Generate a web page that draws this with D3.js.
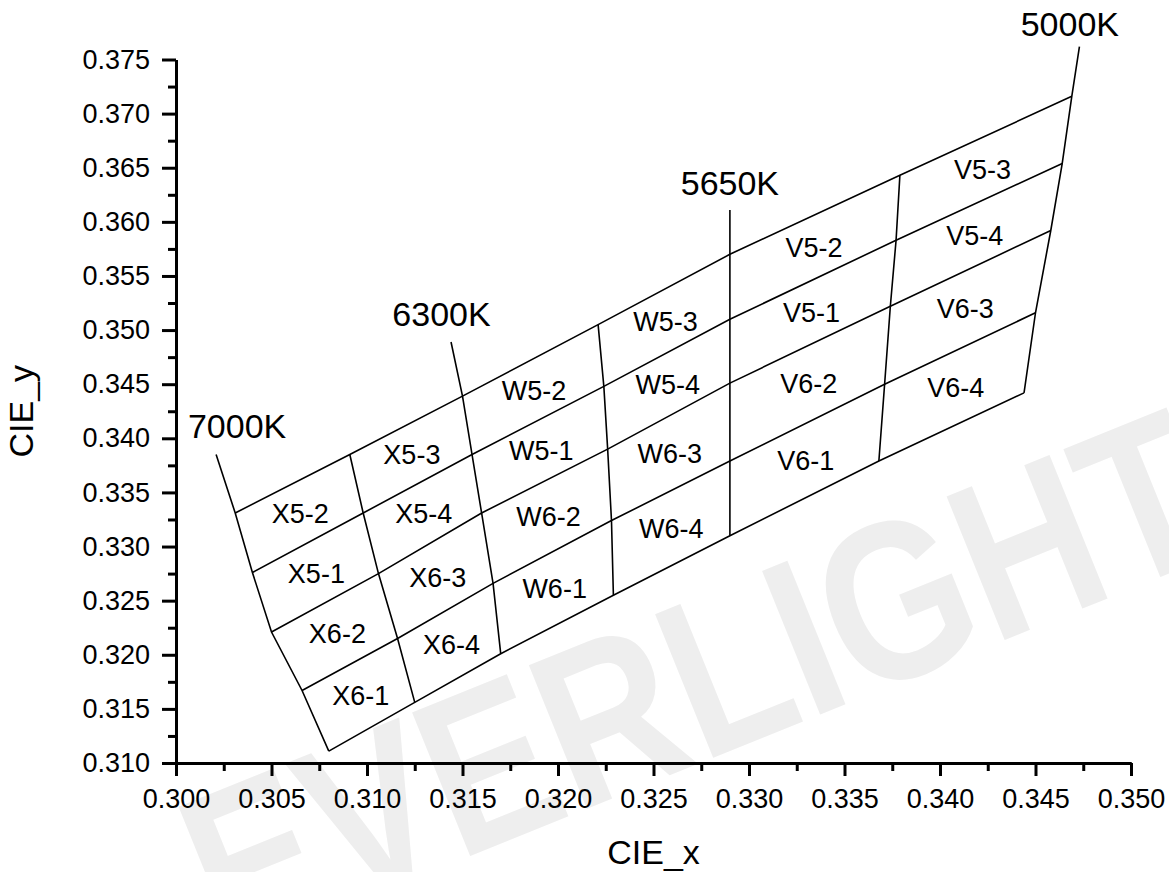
<!DOCTYPE html>
<html>
<head>
<meta charset="utf-8">
<script src="https://cdn.jsdelivr.net/npm/d3@7"></script>
<style>
  body { margin: 0; background: #fff; }
  text { font-family: "Liberation Sans", Arial, sans-serif; }
</style>
</head>
<body>
<div id="chart"></div>
<script>
const WIDTH = 1169;
const HEIGHT = 872;
const LEFT = 176, RIGHT = 1131, TOP = 59.5, BOTTOM = 763;

// bin corners along each isotherm line (7000K ... 5000K), top row to bottom row
const cornerX = [
  [0.3031, 0.3040, 0.3050, 0.3066, 0.3080],
  [0.3091, 0.3098, 0.3106, 0.3116, 0.3125],
  [0.3150, 0.3155, 0.3160, 0.3166, 0.3170],
  [0.3221, 0.3224, 0.3226, 0.3228, 0.3229],
  [0.3290, 0.3290, 0.3290, 0.3290, 0.3290],
  [0.3379, 0.3377, 0.3374, 0.3371, 0.3368],
  [0.3469, 0.3464, 0.3458, 0.3450, 0.3444]
];
const cornerY = [
  [0.3331, 0.3276, 0.3221, 0.3167, 0.3111],
  [0.3385, 0.3331, 0.3275, 0.3215, 0.3156],
  [0.3439, 0.3385, 0.3331, 0.3266, 0.3201],
  [0.3505, 0.3448, 0.3390, 0.3324, 0.3255],
  [0.3570, 0.3510, 0.3451, 0.3379, 0.3310],
  [0.3643, 0.3583, 0.3522, 0.3450, 0.3379],
  [0.3716, 0.3654, 0.3592, 0.3516, 0.3442]
];

// labelled CCT lines and where they stick out above the grid
const cctLines = [0, 2, 4, 6];
const cctNames = ["7000K", "6300K", "5650K", "5000K"];
const cctTopX = [0.3021, 0.3144, 0.3290, 0.3473];
const cctTopY = [0.3385, 0.3489, 0.3611, 0.3762];
const cctLabelX = [0.3032, 0.3139, 0.3290, 0.3468];
const cctLabelY = [0.3400, 0.3504, 0.3625, 0.3772];

// bin codes, one column per strip between two lines, top to bottom
const binNames = [
  ["X5-2", "X5-1", "X6-2", "X6-1"],
  ["X5-3", "X5-4", "X6-3", "X6-4"],
  ["W5-2", "W5-1", "W6-2", "W6-1"],
  ["W5-3", "W5-4", "W6-3", "W6-4"],
  ["V5-2", "V5-1", "V6-2", "V6-1"],
  ["V5-3", "V5-4", "V6-3", "V6-4"]
];

const xTicks = [0.300, 0.305, 0.310, 0.315, 0.320, 0.325, 0.330, 0.335, 0.340, 0.345, 0.350];
const yTicks = [0.310, 0.315, 0.320, 0.325, 0.330, 0.335, 0.340, 0.345, 0.350, 0.355, 0.360, 0.365, 0.370, 0.375];

const xScale = d3.scaleLinear().domain([0.300, 0.350]).range([LEFT, RIGHT]);
const yScale = d3.scaleLinear().domain([0.310, 0.375]).range([BOTTOM, TOP]);

const svg = d3.select("#chart")
  .append("svg")
  .attr("width", WIDTH)
  .attr("height", HEIGHT)
  .style("background", "#fff");

// watermark
svg.append("text")
   .attr("transform", "translate(225, 955) rotate(-22)")
   .attr("font-size", 225)
   .attr("font-weight", "bold")
   .attr("fill", "#eeeeee")
   .attr("textLength", 1080)
   .attr("lengthAdjust", "spacingAndGlyphs")
   .text("EVERLIGHT");

const line = d3.line().x(d => xScale(d[0])).y(d => yScale(d[1]));

// isotherm lines
cornerX.forEach((xs, i) => {
  let pts = xs.map((x, j) => [x, cornerY[i][j]]);
  const k = cctLines.indexOf(i);
  if (k >= 0) pts.unshift([cctTopX[k], cctTopY[k]]);
  svg.append("path")
     .attr("d", line(pts))
     .attr("fill", "none")
     .attr("stroke", "#000")
     .attr("stroke-width", 1.6);
});

// row lines across the bins
for (let j = 0; j < cornerX[0].length; j++) {
  const pts = cornerX.map((xs, i) => [xs[j], cornerY[i][j]]);
  svg.append("path")
     .attr("d", line(pts))
     .attr("fill", "none")
     .attr("stroke", "#000")
     .attr("stroke-width", 1.6);
}

// bin labels at cell centres
binNames.forEach((col, i) => {
  col.forEach((name, j) => {
    const cx = (cornerX[i][j] + cornerX[i][j+1] + cornerX[i+1][j] + cornerX[i+1][j+1]) / 4;
    const cy = (cornerY[i][j] + cornerY[i][j+1] + cornerY[i+1][j] + cornerY[i+1][j+1]) / 4;
    svg.append("text")
       .attr("x", xScale(cx))
       .attr("y", yScale(cy))
       .attr("dy", "0.36em")
       .attr("text-anchor", "middle")
       .attr("font-size", 27)
       .text(name);
  });
});

// CCT labels
cctNames.forEach((name, k) => {
  svg.append("text")
     .attr("x", xScale(cctLabelX[k]))
     .attr("y", yScale(cctLabelY[k]))
     .attr("text-anchor", "middle")
     .attr("font-size", 34)
     .text(name);
});

// axes: major ticks with labels, minor ticks in between
const xMinor = xTicks.slice(1).map((t, i) => (t + xTicks[i]) / 2);
const yMinor = yTicks.slice(1).map((t, i) => (t + yTicks[i]) / 2);

svg.append("g")
  .attr("transform", "translate(0," + BOTTOM + ")")
  .call(d3.axisBottom(xScale).tickValues(xTicks).tickFormat(d3.format(".3f"))
        .tickSize(13).tickSizeOuter(0).tickPadding(13));
svg.append("g")
  .attr("transform", "translate(0," + BOTTOM + ")")
  .call(d3.axisBottom(xScale).tickValues(xMinor).tickFormat("").tickSize(8).tickSizeOuter(0));

svg.append("g")
  .attr("transform", "translate(" + LEFT + ",0)")
  .call(d3.axisLeft(yScale).tickValues(yTicks).tickFormat(d3.format(".3f"))
        .tickSize(14).tickSizeOuter(0).tickPadding(12));
svg.append("g")
  .attr("transform", "translate(" + LEFT + ",0)")
  .call(d3.axisLeft(yScale).tickValues(yMinor).tickFormat("").tickSize(8).tickSizeOuter(0));

svg.selectAll(".domain, .tick line")
   .attr("stroke", "#000")
   .attr("stroke-width", 3);
svg.selectAll(".tick text")
   .attr("font-size", 27)
   .attr("font-family", "Liberation Sans, Arial, sans-serif")
   .attr("fill", "#000");

// axis titles
svg.append("text")
   .attr("x", (LEFT + RIGHT) / 2)
   .attr("y", 864)
   .attr("text-anchor", "middle")
   .attr("font-size", 34)
   .text("CIE_x");

svg.append("text")
   .attr("transform", "translate(33," + (TOP + BOTTOM) / 2 + ") rotate(-90)")
   .attr("text-anchor", "middle")
   .attr("font-size", 34)
   .text("CIE_y");
</script>
</body>
</html>
